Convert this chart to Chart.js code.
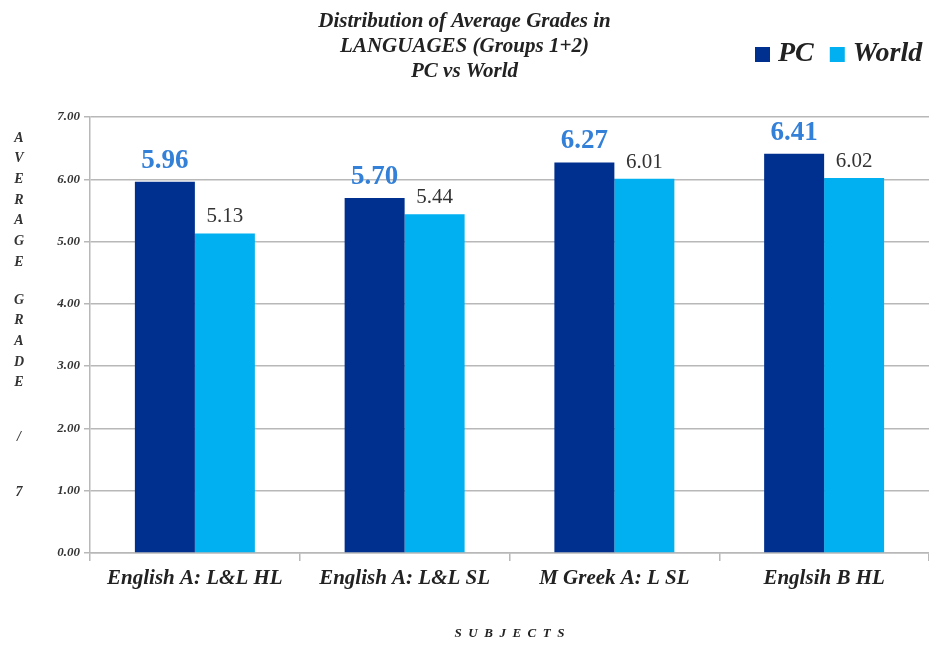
<!DOCTYPE html>
<html>
<head>
<meta charset="utf-8">
<script src="https://cdn.jsdelivr.net/npm/chart.js@4/dist/chart.umd.min.js"></script>
<style>
  html, body { margin: 0; padding: 0; background: #fff; }
  #wrap { width: 929px; height: 645px; }
</style>
</head>
<body>
<div id="wrap"><canvas id="myChart"></canvas></div>
<script>
let subjects = ['English A: L&L HL', 'English A: L&L SL', 'M Greek A: L SL', 'Englsih B HL'];
let pcGrades = [5.96, 5.70, 6.27, 6.41];
let worldGrades = [5.13, 5.44, 6.01, 6.02];
let seriesNames = ['PC', 'World'];
let seriesColors = ['#00308f', '#00b0f0'];
let titleLines = ['Distribution of Average Grades in', 'LANGUAGES (Groups 1+2)', 'PC vs World'];
let yTitle = 'AVERAGE GRADE  /  7';
let xTitle = 'S  U  B  J  E  C  T  S';

let serif = "'Liberation Serif', 'DejaVu Serif', serif";
Chart.defaults.font.family = serif;

// value labels above the bars
let valueLabels = {
    id: 'valueLabels',
    afterDatasetsDraw(chart) {
        let ctx = chart.ctx;
        ctx.save();
        ctx.textAlign = 'center';
        ctx.textBaseline = 'alphabetic';
        chart.data.datasets.forEach((ds, i) => {
            let meta = chart.getDatasetMeta(i);
            meta.data.forEach((bar, j) => {
                if (i === 0) {
                    ctx.font = 'bold 27px ' + serif;
                    ctx.fillStyle = '#3380d8';
                    ctx.fillText(ds.data[j].toFixed(2), bar.x, bar.y - 14);
                } else {
                    ctx.font = '21px ' + serif;
                    ctx.fillStyle = '#333';
                    ctx.fillText(ds.data[j].toFixed(2), bar.x, bar.y - 11);
                }
            });
        });
        ctx.restore();
    }
};

// stacked letters for the y axis title
let stackedTitle = {
    id: 'stackedTitle',
    afterDraw(chart) {
        let ctx = chart.ctx;
        ctx.save();
        ctx.font = 'italic bold 14px ' + serif;
        ctx.fillStyle = '#333';
        ctx.textAlign = 'center';
        ctx.textBaseline = 'middle';
        let y = 138;
        for (let ch of yTitle) {
            if (ch === ' ') {
                y += 17;
            } else {
                ctx.fillText(ch, 19, y);
                y += 20.7;
            }
        }
        ctx.restore();
    }
};

// legend in the top right corner
let cornerLegend = {
    id: 'cornerLegend',
    afterDraw(chart) {
        let ctx = chart.ctx;
        ctx.save();
        ctx.font = 'italic bold 28px ' + serif;
        ctx.textBaseline = 'middle';
        let x = 755, y = 54;
        chart.data.datasets.forEach((ds) => {
            ctx.fillStyle = ds.backgroundColor;
            ctx.fillRect(x, y - 7, 15, 15);
            x += 23;
            ctx.fillStyle = '#222';
            ctx.fillText(ds.label, x, y);
            x += ctx.measureText(ds.label).width + 16;
        });
        ctx.restore();
    }
};

let gridGray = '#b8b8b8';

let myChart = document.getElementById('myChart').getContext('2d');
let chart = new Chart(myChart, {
    type: 'bar',
    data: {
        labels: subjects,
        datasets: [{
            label: seriesNames[0],
            data: pcGrades,
            backgroundColor: seriesColors[0],
            borderWidth: 0,
            categoryPercentage: 0.572,
            barPercentage: 1
        }, {
            label: seriesNames[1],
            data: worldGrades,
            backgroundColor: seriesColors[1],
            borderWidth: 0,
            categoryPercentage: 0.572,
            barPercentage: 1
        }]
    },
    options: {
        responsive: true,
        maintainAspectRatio: false,
        animation: false,
        layout: { padding: { left: 0, right: 0, top: 0, bottom: 0 } },
        plugins: {
            legend: { display: false },
            tooltip: { enabled: false },
            title: {
                display: true,
                text: titleLines,
                color: '#222',
                font: { size: 21, style: 'italic', weight: 'bold', lineHeight: 1.19 },
                padding: { top: 9, bottom: 33 }
            }
        },
        scales: {
            x: {
                grid: { drawOnChartArea: false, drawTicks: true, tickLength: 8, color: gridGray, lineWidth: 1.5 },
                border: { color: gridGray, width: 1.5 },
                ticks: {
                    color: '#222',
                    padding: 5,
                    maxRotation: 0,
                    font: { size: 21, style: 'italic', weight: 'bold' }
                },
                title: {
                    display: true,
                    text: xTitle,
                    color: '#222',
                    font: { size: 13, style: 'italic', weight: 'bold' },
                    padding: { top: 0, bottom: 4 }
                },
                afterFit(scale) { scale.height = 92; }
            },
            y: {
                min: 0,
                max: 7,
                ticks: {
                    stepSize: 1,
                    color: '#333',
                    padding: 4,
                    font: { size: 13, style: 'italic', weight: 'bold' },
                    callback: (v) => v.toFixed(2)
                },
                grid: { color: gridGray, lineWidth: 1.5, tickLength: 6 },
                border: { color: gridGray, width: 1.5 },
                afterFit(scale) { scale.width = 90; }
            }
        }
    },
    plugins: [valueLabels, stackedTitle, cornerLegend]
});
</script>
</body>
</html>
